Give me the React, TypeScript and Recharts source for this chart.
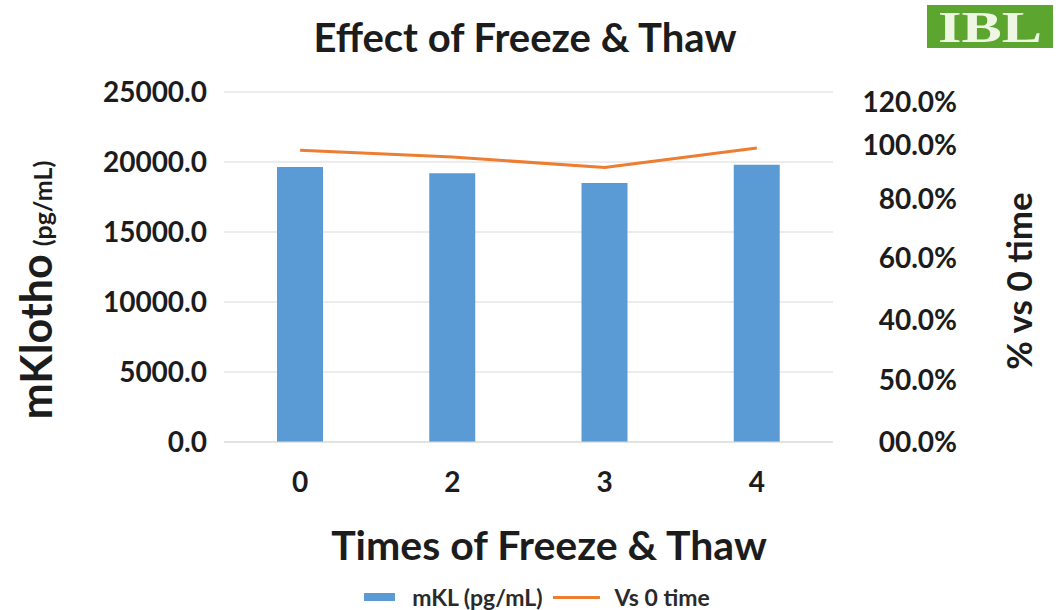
import {
  ComposedChart,
  Bar,
  Line,
  XAxis,
  YAxis,
  CartesianGrid,
  Legend,
} from 'recharts'

const categories = ['0', '2', '3', '4']
const mklValues = [19650, 19200, 18500, 19800]
const vsZeroValues = [100, 97.7, 94.1, 100.8]
const leftTicks = [0, 5000, 10000, 15000, 20000, 25000]
const rightTicks = [0, 20, 40, 60, 80, 100, 120]
const rightTickLabels = ['00.0%', '50.0%', '40.0%', '60.0%', '80.0%', '100.0%', '120.0%']

const data = categories.map((name, i) => ({
  name,
  mkl: mklValues[i],
  vs0: vsZeroValues[i],
}))

const FONT = 'Lato, "Open Sans", sans-serif'
const INK = '#1c1c1c'
const BLUE = '#5b9bd5'
const ORANGE = '#ed7d31'
const GRID = '#d9d9d9'

// the original's right axis labels sit a bit off their gridlines
const rightShift = [0, -4, -5, -9, -10, -5, 10]

const RightTick = ({ x, y, payload, index }: any) => (
  <text
    x={x + 116}
    y={y + (rightShift[index] ?? 0)}
    dy="0.355em"
    textAnchor="end"
    fontFamily={FONT}
    fontWeight={700}
    fontSize={28}
    fill={INK}
  >
    {rightTickLabels[rightTicks.indexOf(payload.value)]}
  </text>
)

const LeftTitle = () => (
  <text
    x={52}
    y={290}
    transform="rotate(-90, 52, 290)"
    textAnchor="middle"
    fontFamily={FONT}
    fontWeight={700}
    fill={INK}
  >
    <tspan fontSize={43}>mKlotho</tspan>
    <tspan fontSize={25} dx={8}>(pg/mL)</tspan>
  </text>
)

const RightTitle = () => (
  <text
    x={1032}
    y={281}
    transform="rotate(-90, 1032, 281)"
    textAnchor="middle"
    fontFamily={FONT}
    fontWeight={700}
    fontSize={35}
    fill={INK}
  >
    % vs 0 time
  </text>
)

const BottomTitle = () => (
  <text
    x={549}
    y={560}
    textAnchor="middle"
    fontFamily={FONT}
    fontWeight={700}
    fontSize={41}
    fill={INK}
  >
    Times of Freeze &amp; Thaw
  </text>
)

const LegendRow = () => (
  <div
    style={{
      display: 'flex',
      justifyContent: 'center',
      alignItems: 'center',
      height: 30,
      paddingLeft: 18,
      fontFamily: FONT,
      fontWeight: 700,
      fontSize: 23,
      color: '#2a2a2a',
    }}
  >
    <span style={{ width: 31, height: 8, background: BLUE, marginRight: 17 }} />
    <span style={{ marginRight: 10 }}>mKL (pg/mL)</span>
    <span style={{ width: 47, height: 3, background: ORANGE, marginRight: 15 }} />
    <span>Vs 0 time</span>
  </div>
)

export default function App() {
  return (
    <div
      style={{
        position: 'absolute',
        left: 0,
        top: 0,
        width: 1056,
        height: 610,
        background: '#fff',
      }}
    >
      <div
        style={{
          position: 'absolute',
          left: 0,
          top: 17,
          width: 1050,
          textAlign: 'center',
          fontFamily: FONT,
          fontWeight: 700,
          fontSize: 40,
          lineHeight: '40px',
          color: INK,
        }}
      >
        Effect of Freeze &amp; Thaw
      </div>
      <svg
        width={126}
        height={56}
        style={{ position: 'absolute', left: 927, top: 0 }}
      >
        <rect y={5} width={126} height={43} fill="#5ca52e" />
        <text
          x={11}
          y={42}
          textLength={104}
          lengthAdjust="spacingAndGlyphs"
          fontFamily='"Liberation Serif", serif'
          fontWeight={700}
          fontSize={44}
          fill="#eef6e4"
        >
          IBL
        </text>
      </svg>
      <ComposedChart
        width={1056}
        height={610}
        data={data}
        margin={{ top: 92, right: 0, bottom: 48, left: 0 }}
      >
        <CartesianGrid yAxisId="left" vertical={false} stroke={GRID} />
        <XAxis
          dataKey="name"
          height={90}
          tickLine={false}
          axisLine={{ stroke: GRID }}
          tickMargin={24}
          tick={{ fontFamily: FONT, fontWeight: 700, fontSize: 28, fill: INK }}
          label={BottomTitle}
        />
        <YAxis
          yAxisId="left"
          width={224}
          domain={[0, 25000]}
          ticks={leftTicks}
          tickFormatter={(v: number) => v.toFixed(1)}
          axisLine={false}
          tickLine={false}
          tickMargin={11}
          tick={{ fontFamily: FONT, fontWeight: 700, fontSize: 28, fill: INK }}
          label={LeftTitle}
        />
        <YAxis
          yAxisId="right"
          orientation="right"
          width={223}
          domain={[0, 120]}
          ticks={rightTicks}
          axisLine={false}
          tickLine={false}
          tick={RightTick}
          label={RightTitle}
        />
        <Legend
          verticalAlign="bottom"
          content={LegendRow}
          wrapperStyle={{ top: 582, left: 0, width: 1056, height: 30 }}
        />
        <Bar
          yAxisId="left"
          dataKey="mkl"
          name="mKL (pg/mL)"
          fill={BLUE}
          barSize={46}
          isAnimationActive={false}
        />
        <Line
          yAxisId="right"
          dataKey="vs0"
          name="Vs 0 time"
          type="linear"
          stroke={ORANGE}
          strokeWidth={3}
          dot={false}
          activeDot={false}
          isAnimationActive={false}
        />
      </ComposedChart>
    </div>
  )
}
